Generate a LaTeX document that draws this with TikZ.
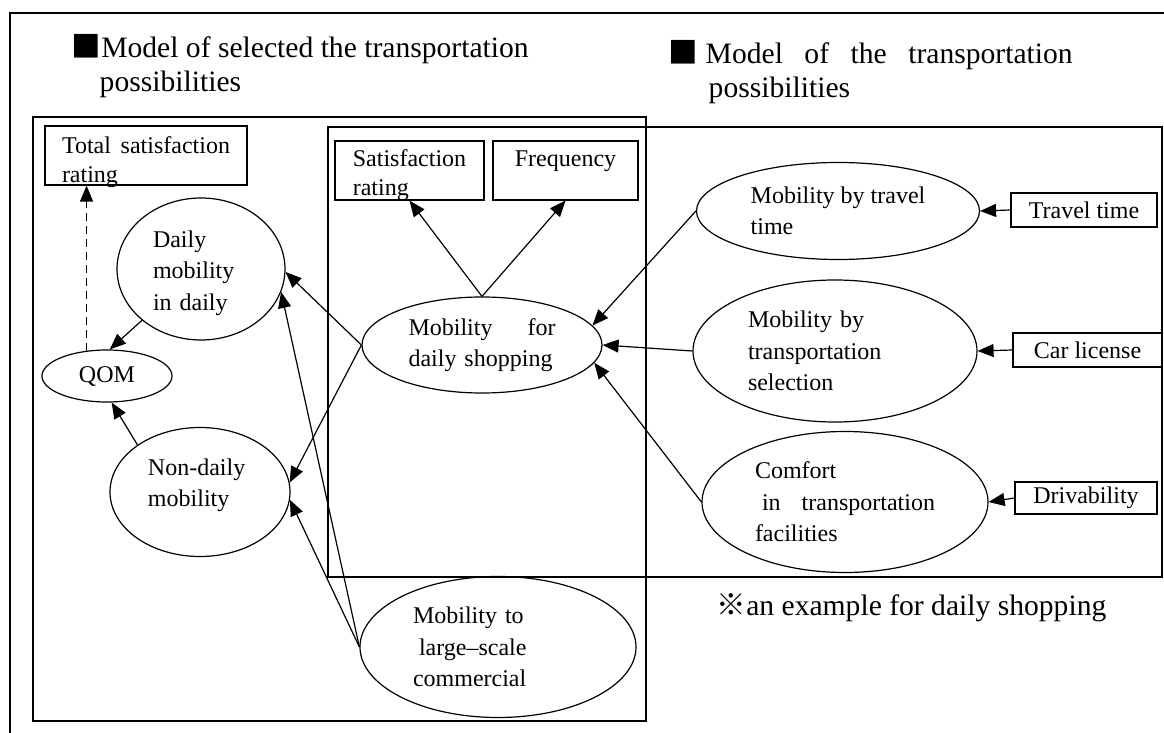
\documentclass[tikz,border=0pt]{standalone}
\usepackage{fontspec}
\setmainfont{Liberation Serif}
\newfontfamily\cjkfont{Noto Sans CJK JP}
\usetikzlibrary{arrows.meta,shapes.geometric}
\newcommand\nodefont{\fontsize{12}{15.7}\selectfont}
\newcommand\boxfont{\fontsize{12}{14.5}\selectfont}
\newcommand\headfont{\fontsize{14.8}{17.2}\selectfont}
\tikzset{
	latent/.style={draw, ellipse, line width=0.6pt, inner sep=0pt, align=left, font=\nodefont},
	observed/.style={draw, rectangle, line width=0.6pt, inner sep=0pt, align=left, font=\boxfont},
	heading/.style={inner sep=0pt, align=left, font=\headfont},
	link/.style={-{Triangle[length=8pt,width=6.5pt]}, line width=0.6pt}
}

\begin{document}
\begin{tikzpicture}[x=0.5pt, y=-0.5pt, line width=0.7pt]
	\useasboundingbox (0,0) rectangle (1164,733);
	\draw (10,733) -- (10,13) -- (1164,13);
	\draw (33,117) rectangle (646,721);
	\draw[line width=1.1pt] (328,127) rectangle (1162,577);
	\node[heading, anchor=base west] (seltitle) at (71,92) {{\cjkfont ■}Model of selected the transportation\\\hspace*{14pt}possibilities};
	\node[heading, anchor=base west] (trtitle) at (668,98) {{\cjkfont ■} \makebox[183.5pt][s]{Model of the transportation}\\\hspace*{20pt}possibilities};
	\node[heading, anchor=base west] (note) at (716,615) {{\cjkfont ※}an example for daily shopping};
	\node[observed, minimum width=101pt, minimum height=29.5pt, text width=84pt, text depth=10.1pt] (totsat) at (146,155.5) {Total\hfill satisfaction\\rating};
	\node[observed, minimum width=74.5pt, minimum height=29.5pt, text height=25.5pt, text depth=0pt] (satrat) at (409.5,170.5) {Satisfaction\\rating};
	\node[observed, minimum width=72.5pt, minimum height=29.5pt, align=center, text height=25.5pt, text depth=0pt] (freq) at (565.5,170.5) {Frequency\\~};
	\node[latent, minimum width=84pt, minimum height=71pt, text width=48pt, text depth=30pt] (dailym) at (201,269) {Daily\\mobility\\in daily};
	\node[latent, minimum width=65pt, minimum height=26pt] (qom) at (107,376) {QOM};
	\node[latent, minimum width=90pt, minimum height=64.5pt, text width=52pt, text depth=25.3pt] (nondaily) at (200,492) {Non-daily\\mobility};
	\node[latent, minimum width=120pt, minimum height=48pt, text width=73.5pt] (shop) at (482,345) {Mobility\hfill for\\daily shopping};
	\node[latent, minimum width=138pt, minimum height=70.5pt, text width=85pt] (large) at (498,647) {Mobility to\\\hspace*{3pt}large–scale\\commercial};
	\node[latent, minimum width=141.5pt, minimum height=48.5pt] (travel) at (838,211) {Mobility by travel\\time};
	\node[latent, minimum width=142pt, minimum height=71pt, text width=87pt] (select) at (835,351) {Mobility by\\transportation\\selection};
	\node[latent, minimum width=143pt, minimum height=70.5pt, text width=90pt] (comfort) at (845,502) {Comfort\\\hspace*{3.5pt}in\hfill transportation\\facilities};
	\node[observed, minimum width=73pt, minimum height=17pt, align=center] (traveltime) at (1084,210) {Travel time};
	\node[observed, minimum width=74.5pt, minimum height=17pt, align=center] (carlic) at (1087.5,350) {Car license};
	\node[observed, minimum width=71pt, minimum height=16pt, align=center] (drive) at (1086,498) {Drivability};
	\draw[link, dash pattern=on 4pt off 2.5pt] (qom.129) -- (qom.129 |- totsat.south);
	\draw[link] (dailym.221) -- (qom.84);
	\draw[link] (nondaily.143) -- (qom.280);
	\draw[link] (shop.west) -- (dailym.358);
	\draw[link] (shop.west) -- (nondaily.6);
	\draw[link] (large.west) -- (dailym.344);
	\draw[link] (large.west) -- (nondaily.355);
	\draw[link] (shop.north) -- (satrat.south);
	\draw[link] (shop.north) -- (freq.south);
	\draw[link] (travel.west) -- (shop.10);
	\draw[link] (select.west) -- (shop.east);
	\draw[link] (comfort.west) -- (shop.351);
	\draw[link] (traveltime.west) -- (travel.east);
	\draw[link] (carlic.west) -- (select.east);
	\draw[link] (drive.west) -- (comfort.east);
\end{tikzpicture}
\end{document}
